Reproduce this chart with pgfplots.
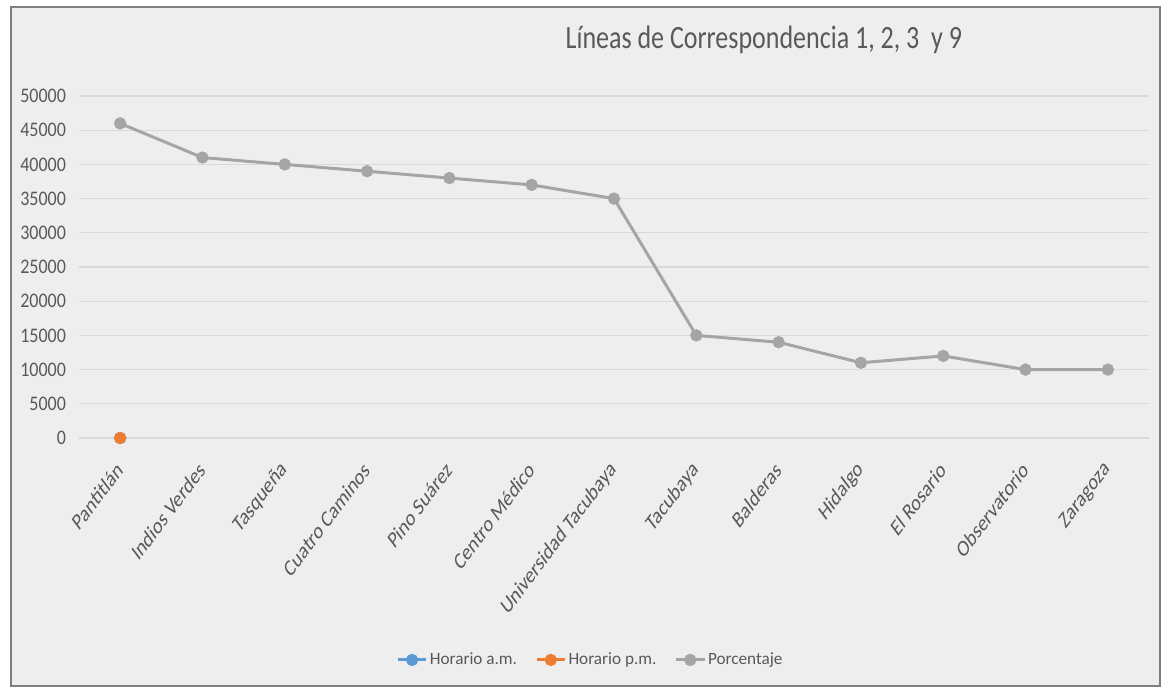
\documentclass[border=0pt]{standalone}
\usepackage{fontspec}
\setmainfont{Carlito}
\usepackage{pgfplots}
\pgfplotsset{compat=1.18}
\usetikzlibrary{backgrounds}
\definecolor{bgc}{HTML}{EEEEEE}
\definecolor{framec}{HTML}{7F7F7F}
\definecolor{gridc}{HTML}{D9D9D9}
\definecolor{lab}{HTML}{595959}
\definecolor{sblue}{HTML}{5B9BD5}
\definecolor{sorange}{HTML}{ED7D31}
\definecolor{sgray}{HTML}{A5A5A5}
\begin{document}
\begin{tikzpicture}
\begin{axis}[name=ax, scale only axis, width=535pt, height=171pt,
  xmin=-0.5, xmax=12.5, ymin=0, ymax=50000, clip=false,
  xtick={0,...,12},
  xticklabels={Pantitlán,Indios Verdes,Tasqueña,Cuatro Caminos,Pino Suárez,Centro Médico,Universidad Tacubaya,Tacubaya,Balderas,Hidalgo,El Rosario,Observatorio,Zaragoza},
  x tick label style={xshift=1.3pt, yshift=-12pt, yscale=1.33, rotate=45, anchor=east, font=\fontsize{8.8}{10}\selectfont, text=lab, inner sep=2pt},
  ytick={0,5000,...,50000},
  y tick label style={yscale=1.15, font=\fontsize{9}{10}\selectfont, text=lab, xshift=-3pt},
  /pgf/number format/.cd, set thousands separator={}, assume math mode=true, /pgfplots/.cd,
  scaled y ticks=false,
  ymajorgrids, grid style={gridc, line width=0.6pt},
  axis line style={draw=none}, major tick length=0pt,
  legend columns=3,
  legend image code/.code={\draw[mark repeat=2,mark phase=2] plot coordinates {(0cm,0cm)(0.25cm,0cm)(0.5cm,0cm)};},
  legend style={at={(0.478,-0.649)}, anchor=center, draw=none, fill=none, font=\fontsize{8.6}{10}\selectfont, text=lab,
    nodes={inner xsep=1pt},
    /tikz/every even column/.append style={column sep=8pt},
    /tikz/every odd column/.append style={column sep=0pt}},
  legend cell align=left,
]
\addplot[sblue, line width=1.5pt, mark=*, mark size=2.3pt] coordinates {(0,0)};
\addlegendentry{Horario a.m.}
\addplot[sorange, line width=1.5pt, mark=*, mark size=2.3pt] coordinates {(0,0)};
\addlegendentry{Horario p.m.}
\addplot[sgray, line width=1.5pt, mark=*, mark size=2.3pt] coordinates {
(0,46000) (1,41000) (2,40000) (3,39000) (4,38000) (5,37000) (6,35000)
(7,15000) (8,14000) (9,11000) (10,12000) (11,10000) (12,10000)};
\addlegendentry{Porcentaje}
\node[font=\fontsize{13}{16}\selectfont, yscale=1.25, text=lab] at (rel axis cs:0.64,1.164) {Líneas de Correspondencia 1, 2, 3\ \ y 9};
\end{axis}
\begin{scope}[on background layer]
\fill[white] ([shift={(-39.5pt,-125pt)}]ax.south west) rectangle ([shift={(543pt,219pt)}]ax.south west);
\filldraw[fill=bgc, draw=framec, line width=1.2pt] ([shift={(-34pt,-124pt)}]ax.south west) rectangle ([shift={(540.5pt,215.5pt)}]ax.south west);
\end{scope}
\end{tikzpicture}
\end{document}
